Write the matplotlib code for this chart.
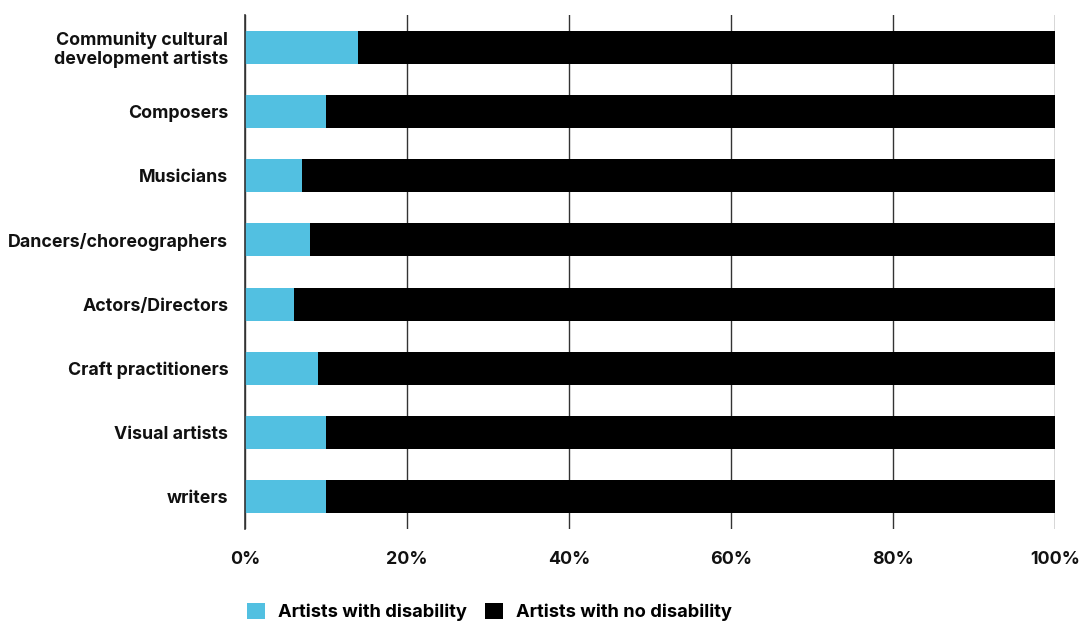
import matplotlib
matplotlib.use("Agg")
import matplotlib.pyplot as plt
from matplotlib.ticker import FuncFormatter

plt.rcParams['font.family'] = ['Inter', 'DejaVu Sans']

categories = ["Community cultural\ndevelopment artists", "Composers", "Musicians",
              "Dancers/choreographers", "Actors/Directors", "Craft practitioners",
              "Visual artists", "writers"]
with_disability = [14, 10, 7, 8, 6, 9, 10, 10]
no_disability = [100 - v for v in with_disability]
series_names = ["Artists with disability", "Artists with no disability"]
colors = ["#52C0E1", "#000000"]

fig = plt.figure(figsize=(10.79, 6.21), dpi=100)
ax = fig.add_axes([245/1079, 1-529/621, 810/1079, 514/621])

y = list(range(len(categories)))
ax.barh(y, with_disability, height=0.51, color=colors[0], label=series_names[0], zorder=3)
ax.barh(y, no_disability, left=with_disability, height=0.51, color=colors[1], label=series_names[1], zorder=3)

ax.set_ylim(len(categories) - 0.5, -0.5)
ax.set_xlim(0, 100)
ax.set_yticks(y)
ax.set_yticklabels(categories, fontsize=12.8, fontweight='bold', color='#111111',
                   linespacing=1.1)
ax.set_xticks([0, 20, 40, 60, 80, 100])
ax.xaxis.set_major_formatter(FuncFormatter(lambda v, p: f"{int(v)}%"))
for lab in ax.get_xticklabels():
    lab.set_fontsize(12.8)
    lab.set_fontweight('bold')
    lab.set_color('#111111')
ax.tick_params(axis='both', length=0)
ax.tick_params(axis='x', pad=16)
ax.tick_params(axis='y', pad=12)
ax.grid(axis='x', color='#333333', linewidth=1, zorder=0)
for s in ['top', 'right', 'bottom']:
    ax.spines[s].set_visible(False)
ax.spines['left'].set_color('#333333')
ax.spines['left'].set_linewidth(1.2)
ax.spines['left'].set_zorder(4)

handles, labels = ax.get_legend_handles_labels()
fig.legend(handles, labels, loc='lower left', bbox_to_anchor=(230/1079, -0.027), ncol=2,
           frameon=False, prop={'size': 13.2, 'weight': 'bold'},
           handlelength=1.0, handleheight=1.0, handletextpad=0.7, columnspacing=1.0)

fig.savefig("out.png", dpi=100)
